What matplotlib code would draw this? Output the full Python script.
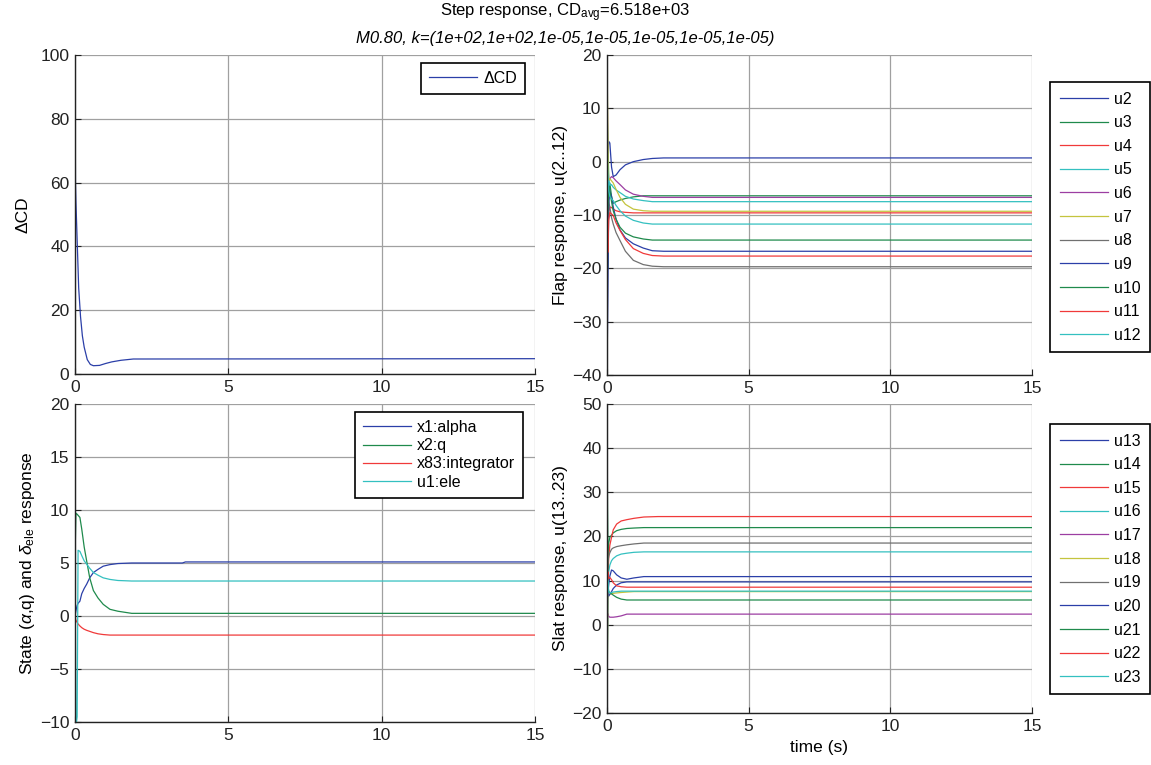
import matplotlib
matplotlib.use("Agg")
import matplotlib.pyplot as plt

plt.rcParams['font.family'] = ['Liberation Sans', 'DejaVu Sans']
plt.rcParams['mathtext.fontset'] = 'custom'
plt.rcParams['mathtext.rm'] = 'Liberation Sans'
plt.rcParams['mathtext.it'] = 'Liberation Sans:italic'

# ---- data ----
# delta CD
t_cd = [0, 0.015, 0.03, 0.06, 0.09, 0.12, 0.18, 0.24, 0.3, 0.4, 0.5, 0.6, 0.8, 1.0, 1.2, 1.5, 1.9, 15]
cd = [100, 60, 54, 45, 36, 27, 18, 12, 8.4, 4.5, 3.0, 2.6, 2.7, 3.3, 3.8, 4.3, 4.7, 4.8]

# flap deflections u2..u12
t_flap = [0, 0.03, 0.06, 0.1, 0.16, 0.22, 0.32, 0.46, 0.65, 0.93, 1.28, 1.6, 2.0, 15]
u2 = [-5, 2, 3.8, 3.5, -1, -2.8, -2.5, -1.5, -0.6, 0.0, 0.4, 0.6, 0.7, 0.7]
u3 = [0, -20, -6, -4, -6.5, -7.8, -7.5, -7.2, -6.9, -6.6, -6.4, -6.4, -6.4, -6.4]
u4 = [-25, -12, -9.5, -8.5, -8.6, -8.9, -9.2, -9.4, -9.5, -9.6, -9.6, -9.6, -9.6, -9.6]
u5 = [10, 4, -3, -4.5, -4.3, -4.8, -5.3, -5.8, -6.5, -7.0, -7.3, -7.5, -7.5, -7.5]
u6 = [20, 0, -3.5, -3.2, -2.8, -3.0, -3.6, -4.3, -5.3, -6.1, -6.5, -6.7, -6.7, -6.7]
u7 = [20, 5, -3.5, -3.2, -3.6, -4.0, -5.2, -6.7, -8.0, -8.9, -9.2, -9.3, -9.3, -9.3]
u8 = [0, -8, -7.5, -8.5, -10.5, -11.7, -13.3, -14.8, -16.8, -18.5, -19.3, -19.6, -19.7, -19.7]
u9 = [-40, -25, -8, -5.5, -6.5, -8.5, -10.8, -12.8, -14.3, -15.4, -16.2, -16.7, -16.8, -16.8]
u10 = [0, -10, -4.5, -5.5, -7.5, -9.2, -10.8, -12.3, -13.4, -14.1, -14.5, -14.7, -14.7, -14.7]
u11 = [0, -17, -11, -9.5, -9.8, -10.1, -11.5, -12.9, -14.6, -16.3, -17.2, -17.6, -17.7, -17.7]
u12 = [6, -2, -5.5, -6.5, -7.0, -7.3, -8.2, -9.2, -10.2, -11.0, -11.5, -11.7, -11.7, -11.7]
flap = [u2, u3, u4, u5, u6, u7, u8, u9, u10, u11, u12]
flap_names = ['u%d' % i for i in range(2, 13)]

# states and elevator
t_st = [0, 0.03, 0.07, 0.1, 0.16, 0.22, 0.3, 0.38, 0.48, 0.6, 0.75, 0.92, 1.14, 1.4, 1.85, 3.5, 3.6, 15]
x_alpha = [0, 0.5, 1.0, 1.2, 1.4, 2.1, 2.6, 3.0, 3.6, 4.1, 4.4, 4.7, 4.85, 4.95, 5.0, 5.0, 5.1, 5.1]
x_q = [5.5, 9.7, 9.6, 9.5, 9.3, 8.2, 6.5, 5.2, 3.6, 2.4, 1.7, 1.1, 0.63, 0.45, 0.25, 0.25, 0.25, 0.25]
x_int = [0, -0.4, -0.6, -0.75, -0.94, -1.1, -1.25, -1.35, -1.45, -1.57, -1.68, -1.75, -1.8, -1.8, -1.8, -1.8, -1.8, -1.8]
u_ele = [5.5, -10.5, -9.5, 6.2, 6.1, 5.7, 5.2, 4.9, 4.5, 4.1, 3.85, 3.6, 3.45, 3.35, 3.3, 3.3, 3.3, 3.3]
state_names = ['x1:alpha', 'x2:q', 'x83:integrator', 'u1:ele']

# slat deflections u13..u23
t_slat = [0, 0.03, 0.06, 0.1, 0.16, 0.22, 0.34, 0.5, 0.7, 0.95, 1.3, 1.8, 15]
u13 = [14, 7, 9, 11, 12.4, 12.2, 11.3, 10.6, 10.3, 10.6, 10.9, 10.9, 10.9]
u14 = [50, 12, 18.5, 19.8, 20.3, 20.8, 21.3, 21.6, 21.8, 21.9, 22.0, 22.0, 22.0]
u15 = [0, 10, 15, 18, 19.8, 21.5, 22.8, 23.5, 23.8, 24.1, 24.4, 24.5, 24.5]
u16 = [-20, 8, 12, 13.5, 14.5, 15.0, 15.6, 16.0, 16.2, 16.4, 16.5, 16.5, 16.5]
u17 = [0, 2.5, 1.9, 1.7, 1.7, 1.7, 1.8, 2.0, 2.4, 2.4, 2.4, 2.4, 2.4]
u18 = [-20, 6, 6.5, 6.9, 7.0, 7.1, 7.2, 7.3, 7.4, 7.5, 7.5, 7.5, 7.5]
u19 = [10, 14, 15.5, 16.3, 17.1, 17.4, 17.7, 17.9, 18.1, 18.3, 18.5, 18.5, 18.5]
u20 = [5, 7, 6.5, 6.9, 7.5, 8.2, 9.0, 9.5, 9.7, 9.7, 9.7, 9.7, 9.7]
u21 = [40, 9, 7.5, 7.3, 7.0, 6.7, 6.2, 5.8, 5.6, 5.6, 5.6, 5.6, 5.6]
u22 = [-20, 12, 10.5, 10.7, 10.2, 9.5, 8.8, 8.6, 8.5, 8.5, 8.5, 8.5, 8.5]
u23 = [-20, 10, 7.5, 7.2, 7.3, 7.4, 7.5, 7.6, 7.6, 7.6, 7.6, 7.6, 7.6]
slat = [u13, u14, u15, u16, u17, u18, u19, u20, u21, u22, u23]
slat_names = ['u%d' % i for i in range(13, 24)]

# old matlab colour order
colors = ['#2b3fa8', '#1f8a4c', '#f03a3a', '#34c0c0', '#9c3ea2', '#c4c43e', '#707070']

W, H = 1151, 765
fig = plt.figure(figsize=(W / 100, H / 100), dpi=100)


def make_ax(l, r, t, b):
    return fig.add_axes([l / W, 1 - b / H, (r - l) / W, (b - t) / H])


def style(ax, ylim, yticks):
    ax.set_xlim(0, 15)
    ax.set_ylim(*ylim)
    ax.set_xticks([0, 5, 10, 15])
    ax.set_yticks(yticks)
    ax.grid(True, color='#a0a0a0', linewidth=0.9)
    ax.set_axisbelow(True)
    for s in ['top', 'right']:
        ax.spines[s].set_visible(False)
    for s in ['left', 'bottom']:
        ax.spines[s].set_linewidth(1.0)
        ax.spines[s].set_color('#222222')
    ax.tick_params(direction='in', length=4, labelsize=12.5, colors='#222222', pad=4)


lw = 0.9
leg_kw = dict(fontsize=11.5, frameon=True, fancybox=False, framealpha=1,
              edgecolor='black', handlelength=3.0, handletextpad=0.4,
              borderaxespad=0, loc='upper left', bbox_transform=fig.transFigure)

# top left
ax1 = make_ax(75, 535, 55, 374)
ax1.plot(t_cd, cd, color=colors[0], lw=lw, label='ΔCD')
style(ax1, (0, 100), range(0, 101, 20))
ax1.set_ylabel('ΔCD', fontsize=12.5)
ax1.yaxis.set_label_coords((31 - 75) / 460, 0.5)
lg = ax1.legend(bbox_to_anchor=(421 / W, 1 - 63 / H), borderpad=0.5, **leg_kw)
lg.get_frame().set_linewidth(1.2)

# top right
ax2 = make_ax(607, 1032, 55, 375)
for i, (vals, name) in enumerate(zip(flap, flap_names)):
    ax2.plot(t_flap, vals, color=colors[i % 7], lw=lw, label=name)
style(ax2, (-40, 20), range(-40, 21, 10))
ax2.set_ylabel('Flap response, u(2..12)', fontsize=12.5)
ax2.yaxis.set_label_coords((568 - 607) / 425, 0.5)
lg = ax2.legend(bbox_to_anchor=(1050 / W, 1 - 82 / H), borderpad=0.6,
                labelspacing=0.54, **leg_kw)
lg.get_frame().set_linewidth(1.2)

# bottom left
ax3 = make_ax(75, 535, 404, 722)
for i, (vals, name) in enumerate(zip([x_alpha, x_q, x_int, u_ele], state_names)):
    ax3.plot(t_st, vals, color=colors[i], lw=lw, label=name)
style(ax3, (-10, 20), range(-10, 21, 5))
ax3.set_ylabel(r'State ($\alpha$,q) and $\delta_{\rm ele}$ response', fontsize=12.5)
ax3.yaxis.set_label_coords((37 - 75) / 460, 0.5)
lg = ax3.legend(bbox_to_anchor=(355 / W, 1 - 412 / H), borderpad=0.5,
                labelspacing=0.2, **leg_kw)
lg.get_frame().set_linewidth(1.2)

# bottom right
ax4 = make_ax(607, 1032, 404, 713)
for i, (vals, name) in enumerate(zip(slat, slat_names)):
    ax4.plot(t_slat, vals, color=colors[i % 7], lw=lw, label=name)
style(ax4, (-20, 50), range(-20, 51, 10))
ax4.set_ylabel('Slat response, u(13..23)', fontsize=12.5)
ax4.yaxis.set_label_coords((568 - 607) / 425, 0.5)
ax4.set_xlabel('time (s)', fontsize=12.5)
ax4.xaxis.set_label_coords(0.5, (713 - 740) / 309)
lg = ax4.legend(bbox_to_anchor=(1050 / W, 1 - 424 / H), borderpad=0.6,
                labelspacing=0.54, **leg_kw)
lg.get_frame().set_linewidth(1.2)

fig.text(565 / W, 1 - 13 / H, r'Step response, CD$_{\rm avg}$=6.518e+03',
         ha='center', va='center', fontsize=12)
fig.text(565 / W, 1 - 38 / H,
         'M0.80, k=(1e+02,1e+02,1e-05,1e-05,1e-05,1e-05,1e-05)',
         ha='center', va='center', fontsize=12, style='italic')

fig.savefig('out.png', dpi=100)
